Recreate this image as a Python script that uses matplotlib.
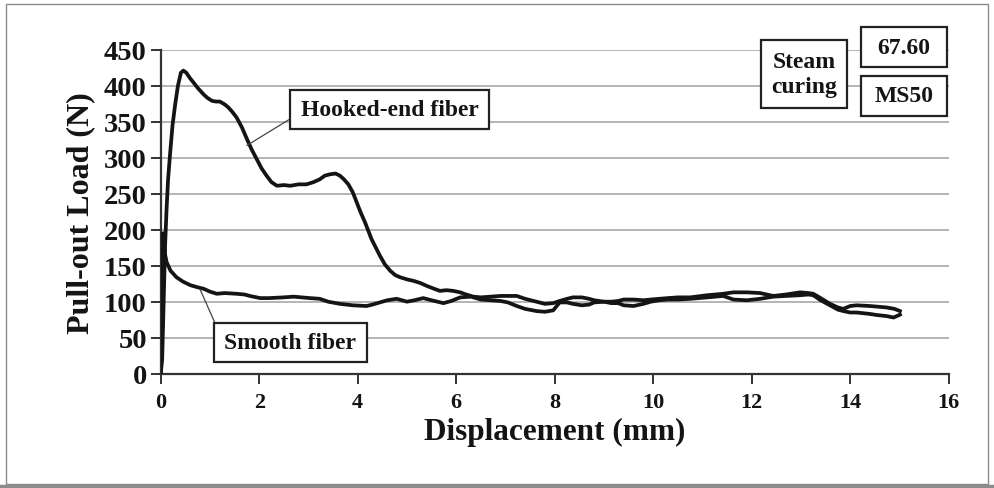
import numpy as np
import matplotlib
matplotlib.use('Agg')
import matplotlib.pyplot as plt
from matplotlib.patches import Rectangle

# pull-out curves (displacement mm, load N)
hooked_x = [0.0, 0.03, 0.06, 0.09, 0.12, 0.15, 0.19, 0.24, 0.29, 0.35, 0.41, 0.46, 0.52, 0.6,
            0.66, 0.75, 0.87, 0.95, 1.04, 1.12, 1.2, 1.3, 1.37, 1.45, 1.54, 1.65, 1.75, 1.85,
            1.95, 2.05, 2.15, 2.25, 2.36, 2.5, 2.63, 2.8, 2.96, 3.1, 3.23, 3.33, 3.44, 3.55,
            3.64, 3.72, 3.81, 3.9, 3.98, 4.06, 4.15, 4.28, 4.45, 4.55, 4.66, 4.76, 4.86, 5.0,
            5.13, 5.27, 5.4, 5.55, 5.67, 5.8, 5.94, 6.08, 6.2, 6.35, 6.5, 6.7, 6.9, 7.05, 7.23,
            7.4, 7.63, 7.8, 7.97, 8.1, 8.25, 8.37, 8.55, 8.7, 8.8, 9.0, 9.15, 9.29, 9.4, 9.6,
            9.8, 9.95, 10.12, 10.3, 10.5, 10.75, 11.1, 11.42, 11.63, 11.9, 12.17, 12.44, 12.7,
            12.98, 13.15, 13.25, 13.4, 13.59, 13.75, 13.86, 14.0, 14.13, 14.4, 14.74, 14.9, 15.01]
hooked_y = [0, 20, 100, 180, 230, 270, 305, 345, 372, 400, 418, 421, 418, 410,
            405, 397, 388, 383, 379, 378, 378, 374, 370, 364, 356, 342, 326, 311,
            298, 285, 275, 266, 261, 262, 261, 263, 263, 266, 270, 275, 277, 278,
            275, 270, 263, 252, 238, 224, 210, 187, 164, 152, 143, 137, 134, 131,
            129, 126, 122, 118, 115, 116, 115, 113, 110, 107, 106, 107, 108, 108, 108,
            104, 100, 97, 98, 101, 104, 106, 106, 104, 102, 100, 100, 101, 103, 103,
            102, 103, 104, 105, 106, 106, 109, 111, 113, 113, 112, 108, 110,
            113, 112, 111, 105, 97, 92, 90, 94, 95, 94, 92, 90, 87]

smooth_x = [0.0, 0.02, 0.04, 0.05, 0.07, 0.09, 0.12, 0.2, 0.32, 0.45, 0.6, 0.75, 0.87, 1.0,
            1.14, 1.3, 1.54, 1.7, 1.81, 2.02, 2.2, 2.49, 2.7, 3.03, 3.23, 3.4, 3.64, 3.9, 4.18,
            4.3, 4.45, 4.6, 4.79, 4.9, 5.0, 5.15, 5.33, 5.5, 5.74, 5.9, 6.08, 6.3, 6.5, 6.7,
            6.9, 7.05, 7.23, 7.4, 7.63, 7.8, 7.97, 8.1, 8.25, 8.37, 8.55, 8.7, 8.8, 9.0, 9.15,
            9.29, 9.4, 9.6, 9.8, 9.95, 10.12, 10.3, 10.5, 10.75, 11.1, 11.42, 11.63, 11.9,
            12.17, 12.44, 12.7, 12.98, 13.15, 13.25, 13.4, 13.59, 13.75, 13.86, 14.0, 14.13,
            14.4, 14.54, 14.74, 14.88, 15.01]
smooth_y = [0, 60, 150, 195, 180, 165, 155, 143, 134, 128, 123, 120, 118, 114,
            111, 112, 111, 110, 108, 105, 105, 106, 107, 105, 104, 100, 97, 95, 94,
            96, 99, 102, 104, 102, 100, 102, 105, 102, 98, 101, 106, 107, 103, 102,
            101, 99, 94, 90, 87, 86, 88, 99, 99, 97, 95, 96, 99, 100, 98,
            98, 95, 94, 97, 100, 102, 103, 103, 104, 106, 108, 103, 102,
            104, 107, 108, 109, 110, 109, 102, 95, 89, 87, 85, 85,
            83, 81.5, 80, 78, 82]

x_ticks = [0, 2, 4, 6, 8, 10, 12, 14, 16]
y_ticks = [0, 50, 100, 150, 200, 250, 300, 350, 400, 450]

W, H = 994, 489
serif = ['Liberation Serif', 'DejaVu Serif']
ink = '#141414'

fig = plt.figure(figsize=(W / 100, H / 100), dpi=100)
fig.patch.set_facecolor('white')


def px(l, t, r, b):
    # image pixel box (top-left origin) -> figure fraction rectangle
    return l / W, 1 - b / H, (r - l) / W, (b - t) / H


ax = fig.add_axes(px(160.7, 50.7, 948.7, 374.7))
ax.plot(hooked_x, hooked_y, color=ink, lw=2.7, zorder=3)
ax.plot(smooth_x, smooth_y, color=ink, lw=2.7, zorder=3)

ax.set_xlim(0, 16)
ax.set_ylim(0, 450)
ax.set_xticks(x_ticks)
ax.set_yticks(y_ticks)
ax.set_xticklabels([str(v) for v in x_ticks], family=serif, weight='bold', fontsize=16, color=ink)
ax.set_yticklabels([str(v) for v in y_ticks], family=serif, weight='bold', fontsize=20.5, color=ink)
ax.yaxis.grid(True, color='#a8a8a8', lw=1.2)
ax.set_axisbelow(True)
for s in ['top', 'right']:
    ax.spines[s].set_visible(False)
for s in ['left', 'bottom']:
    ax.spines[s].set_color('#333333')
    ax.spines[s].set_linewidth(1.6)
ax.tick_params(axis='both', direction='out', length=7, width=1.4, color='#333333')
ax.tick_params(axis='x', pad=6)
ax.tick_params(axis='y', pad=3)
ax.set_xlabel('Displacement (mm)', family=serif, weight='bold', fontsize=22.5, color=ink, labelpad=4)
ax.set_ylabel('Pull-out Load (N)', family=serif, weight='bold', fontsize=23, color=ink, labelpad=6)


def label_box(l, t, r, b, text, size=17):
    x0, y0, w, h = px(l, t, r, b)
    fig.patches.append(Rectangle((x0, y0), w, h, transform=fig.transFigure,
                                 facecolor='white', edgecolor='#222222', lw=1.6, zorder=5))
    fig.text(x0 + w / 2, y0 + h / 2, text, ha='center', va='center', family=serif,
             weight='bold', fontsize=size, color=ink, zorder=6, linespacing=1.25)


# leader lines from label boxes to the curves
ax.annotate('', xy=(1.75, 317), xycoords='data', xytext=(290, H - 120), textcoords='figure pixels',
            arrowprops=dict(arrowstyle='-', color='#444444', lw=0.9, shrinkA=0, shrinkB=0))
ax.annotate('', xy=(0.8, 117), xycoords='data', xytext=(215, H - 324), textcoords='figure pixels',
            arrowprops=dict(arrowstyle='-', color='#444444', lw=0.9, shrinkA=0, shrinkB=0))

label_box(290, 91, 489, 130, 'Hooked-end fiber')
label_box(214, 324, 367, 363, 'Smooth fiber')
label_box(761, 41, 847, 109, 'Steam\ncuring')
label_box(861, 28, 947, 68, '67.60')
label_box(861, 77, 947, 117, 'MS50')

# outer frame with a darker shadow along the bottom
fig.patches.append(Rectangle((6 / W, 1 - 485 / H), 982 / W, 480 / H, transform=fig.transFigure,
                             facecolor='none', edgecolor='#8a8a8a', lw=1.0, zorder=1))
fig.add_artist(plt.Line2D([0, 1], [1 - 487 / H, 1 - 487 / H], transform=fig.transFigure,
                          color='#8c8c8c', lw=2.5, zorder=1))

fig.savefig('out.png', dpi=100)
